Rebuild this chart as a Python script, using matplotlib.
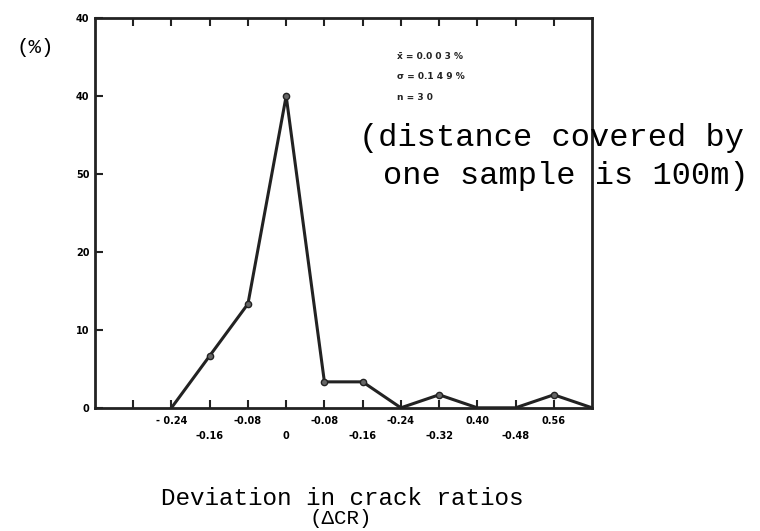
import matplotlib
matplotlib.use('Agg')
import matplotlib.pyplot as plt

# deviation classes (centre of class) and frequency in %
dev = [-0.24, -0.16, -0.08, 0.0, 0.08, 0.16, 0.24, 0.32, 0.40, 0.48, 0.56, 0.64]
freq = [0, 6.67, 13.33, 40, 3.33, 3.33, 0, 1.67, 0, 0, 1.67, 0]

upper_ticks = [-0.24, -0.08, 0.08, 0.24, 0.40, 0.56]
upper_labels = ['- 0.24', '-0.08', '-0.08', '-0.24', '0.40', '0.56']
lower_ticks = [-0.32, -0.16, 0.0, 0.16, 0.32, 0.48]
lower_labels = ['', '-0.16', '0', '-0.16', '-0.32', '-0.48']

y_ticks = [0, 10, 20, 30, 40, 50]
y_labels = ['0', '10', '20', '50', '40', '40']

stats = ['x\u0304 = 0.0 0 3 %', '\u03c3 = 0.1 4 9 %', 'n = 3 0']

ink = '#222222'
mono = 'Liberation Mono'

fig = plt.figure(figsize=(7.6, 5.31), dpi=100)
ax = fig.add_axes([0.125, 0.232, 0.654, 0.734])

ax.plot(dev, freq, color=ink, lw=2.2, solid_joinstyle='miter')
pts = [(d, f) for d, f in zip(dev, freq) if f > 0]
ax.plot([p[0] for p in pts], [p[1] for p in pts], 'o', ms=4.5,
        mfc='#666666', mec=ink, mew=1)

ax.set_xlim(-0.40, 0.64)
ax.set_ylim(0, 50)

for s in ax.spines.values():
    s.set_linewidth(2)
    s.set_color(ink)

ax.set_xticks(upper_ticks)
ax.set_xticklabels(upper_labels)
ax.set_xticks(lower_ticks, minor=True)
ax.set_xticklabels(lower_labels, minor=True)
ax.tick_params(axis='x', which='both', direction='in', length=6, width=1.5,
               color=ink, top=True, labelsize=7)
ax.tick_params(axis='x', which='major', pad=6)
ax.tick_params(axis='x', which='minor', pad=17)
for lab in ax.get_xticklabels(which='both'):
    lab.set_fontweight('bold')

ax.set_yticks(y_ticks)
ax.set_yticklabels(y_labels)
ax.tick_params(axis='y', direction='in', length=6, width=1.5, color=ink,
               labelsize=7, pad=4)
for lab in ax.get_yticklabels():
    lab.set_fontweight('bold')

for i, s in enumerate(stats):
    fig.text(0.522, 0.893 - i * 0.038, s, fontsize=6.5, fontweight='bold',
             va='center', color=ink)

fig.text(0.046, 0.910, '(%)', family=mono, fontsize=15, va='center', ha='center')
fig.text(0.726, 0.740, '(distance covered by', family=mono, fontsize=23,
         va='center', ha='center')
fig.text(0.744, 0.668, 'one sample is 100m)', family=mono, fontsize=23,
         va='center', ha='center')
fig.text(0.450, 0.062, 'Deviation in crack ratios', family=mono, fontsize=17.5,
         va='center', ha='center')
fig.text(0.448, 0.024, '(\u0394CR)', family=mono, fontsize=15,
         va='center', ha='center')

fig.savefig('out.png', dpi=100, facecolor='white')
